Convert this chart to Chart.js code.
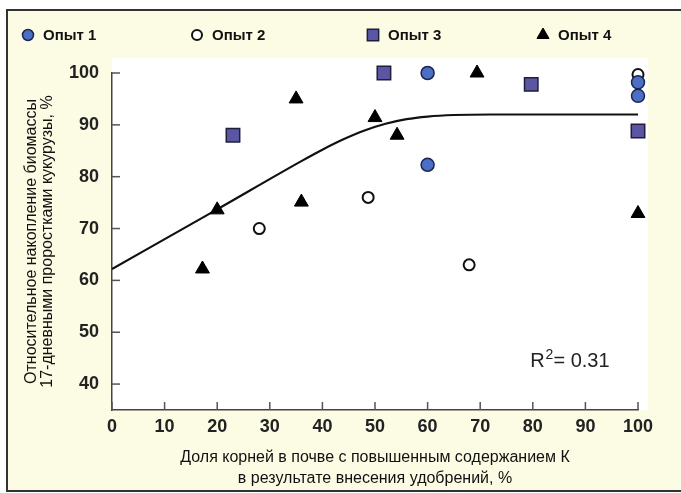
<!DOCTYPE html>
<html><head><meta charset="utf-8">
<script src="https://cdn.jsdelivr.net/npm/chart.js@4/dist/chart.umd.min.js"></script>
<style>html,body{margin:0;padding:0;background:#fff;}#wrap{width:681px;height:493px;position:relative;}</style>
</head><body><div id="wrap"><canvas id="c" width="681" height="493"></canvas></div>
<script>
// ---- data ----
const seriesNames = ['Опыт 1', 'Опыт 2', 'Опыт 3', 'Опыт 4'];
const exp1X = [60, 60, 100, 100];
const exp1Y = [100, 82.3, 98.2, 95.6];
const exp2X = [28, 48.7, 67.9, 100];
const exp2Y = [70, 76, 63, 99.7];
const exp3X = [23, 51.7, 79.7, 100];
const exp3Y = [88, 100, 97.8, 88.8];
const exp4X = [17.2, 20, 35, 36, 50, 54.2, 69.4, 100];
const exp4Y = [62.2, 73.6, 95, 75.1, 91.4, 88, 100, 72.9];
const fitX = [0, 20, 36, 40, 44, 48, 52, 56, 60, 65, 72, 100];
const fitY = [62.2, 73.7, 83, 85.2, 87.2, 88.9, 90.2, 91.1, 91.6, 91.9, 92, 92];
const xTicks = [0, 10, 20, 30, 40, 50, 60, 70, 80, 90, 100];
const yTicks = [40, 50, 60, 70, 80, 90, 100];
const xTitle = ['Доля корней в почве с повышенным содержанием К', 'в результате внесения удобрений, %'];
const yTitle = ['Относительное накопление биомассы', '17-дневными проростками кукурузы, %'];
const r2Text = ['R', '2', '= 0.31'];

const pts = (xs, ys) => xs.map((x, i) => ({x, y: ys[i]}));

const FONT = "'Liberation Sans', Arial, sans-serif";
const NARROW = "'Liberation Sans Narrow', 'Arial Narrow', 'Liberation Sans', sans-serif";

const frame = {
  id: 'frame',
  beforeDraw(chart) {
    const ctx = chart.ctx, a = chart.chartArea;
    ctx.save();
    ctx.fillStyle = '#ffffff';
    ctx.fillRect(0, 0, chart.width, chart.height);
    ctx.fillStyle = '#fcfce4';
    ctx.fillRect(7, 10, chart.width, 481);
    ctx.fillStyle = '#ffffff';
    ctx.fillRect(a.left, 58, 536, a.bottom - 58);
    ctx.strokeStyle = '#333';
    ctx.lineWidth = 2;
    ctx.strokeRect(7, 10, chart.width + 10, 481);
    ctx.restore();
  },
  afterDraw(chart) {
    const ctx = chart.ctx, xs = chart.scales.x, ys = chart.scales.y;
    ctx.save();
    // inner tick marks
    ctx.strokeStyle = '#555';
    ctx.lineWidth = 1.5;
    yTicks.forEach(v => {
      const p = ys.getPixelForValue(v);
      ctx.beginPath(); ctx.moveTo(xs.left, p); ctx.lineTo(xs.left + 8, p); ctx.stroke();
    });
    xTicks.forEach(v => {
      const p = xs.getPixelForValue(v);
      ctx.beginPath(); ctx.moveTo(p, ys.bottom); ctx.lineTo(p, ys.bottom - 8); ctx.stroke();
    });
    // legend
    const legendX = [28, 197, 373, 543];
    chart.data.datasets.slice(0, 4).forEach((ds, i) => {
      const cx = legendX[i], cy = 35;
      ctx.fillStyle = ds.backgroundColor;
      ctx.strokeStyle = ds.borderColor;
      ctx.lineWidth = ds.pointBorderWidth;
      Chart.helpers.drawPoint(ctx, {pointStyle: ds.pointStyle, radius: ds.legendRadius, borderWidth: ds.pointBorderWidth}, cx, cy);
      ctx.fillStyle = '#111';
      ctx.font = 'bold 15px ' + FONT;
      ctx.textBaseline = 'middle';
      ctx.textAlign = 'left';
      ctx.fillText(seriesNames[i], cx + 15, cy + 1);
    });
    // R^2 annotation
    const rx = xs.getPixelForValue(79.5), ry = ys.getPixelForValue(43.3);
    ctx.fillStyle = '#222';
    ctx.textBaseline = 'alphabetic';
    ctx.font = '20px ' + FONT;
    ctx.fillText(r2Text[0], rx, ry);
    let w = ctx.measureText(r2Text[0]).width;
    ctx.font = '14px ' + FONT;
    ctx.fillText(r2Text[1], rx + w + 1, ry - 8);
    w += ctx.measureText(r2Text[1]).width + 1;
    ctx.font = '20px ' + FONT;
    ctx.fillText(r2Text[2], rx + w, ry);
    ctx.restore();
  }
};

const common = {showLine: false, clip: false};
new Chart(document.getElementById('c'), {
  type: 'scatter',
  data: {
    datasets: [
      {...common, label: seriesNames[0], data: pts(exp1X, exp1Y), pointStyle: 'circle', pointRadius: 6.5, legendRadius: 5.5,
        backgroundColor: '#4a6fc4', borderColor: '#1c2550', pointBorderWidth: 1.5},
      {...common, label: seriesNames[1], data: pts(exp2X, exp2Y), pointStyle: 'circle', pointRadius: 5.5, legendRadius: 5,
        backgroundColor: '#ffffff', borderColor: '#111', pointBorderWidth: 2},
      {...common, label: seriesNames[2], data: pts(exp3X, exp3Y), pointStyle: 'rect', pointRadius: 9.5, legendRadius: 8,
        backgroundColor: '#5a56a4', borderColor: '#1e1e3a', pointBorderWidth: 1.5},
      {...common, label: seriesNames[3], data: pts(exp4X, exp4Y), pointStyle: 'triangle', pointRadius: 8, legendRadius: 7,
        backgroundColor: '#000', borderColor: '#000', pointBorderWidth: 1},
      {label: 'fit', data: pts(fitX, fitY), showLine: true, pointRadius: 0, borderColor: '#111', borderWidth: 2.2,
        cubicInterpolationMode: 'monotone', fill: false}
    ]
  },
  options: {
    responsive: false, animation: false, devicePixelRatio: 1,
    layout: {padding: {left: 0, right: 43, top: 73, bottom: 0}},
    plugins: {legend: {display: false}, tooltip: {enabled: false}},
    scales: {
      x: {
        type: 'linear', min: 0, max: 100,
        afterBuildTicks: s => { s.ticks = xTicks.map(v => ({value: v})); },
        afterFit: s => { s.height = 83; },
        grid: {display: true, drawOnChartArea: false, drawTicks: false},
        border: {display: true, color: '#444', width: 1.5},
        ticks: {padding: 6, color: '#222', font: {family: FONT, size: 18, weight: 'bold'}, maxRotation: 0},
        title: {display: true, text: xTitle, color: '#111', font: {family: NARROW, size: 16, lineHeight: 1.3}, padding: {top: 0, bottom: 4}}
      },
      y: {
        type: 'linear', min: 35, max: 100,
        afterBuildTicks: s => { s.ticks = yTicks.map(v => ({value: v})); },
        afterFit: s => { s.width = 112; },
        grid: {display: true, drawOnChartArea: false, drawTicks: false},
        border: {display: true, color: '#444', width: 1.5},
        ticks: {padding: 13, color: '#222', font: {family: FONT, size: 18, weight: 'bold'}},
        title: {display: true, text: yTitle, color: '#111', font: {family: NARROW, size: 16, lineHeight: 1.0}, padding: {top: 24, bottom: 0}}
      }
    }
  },
  plugins: [frame]
});
</script></body></html>
